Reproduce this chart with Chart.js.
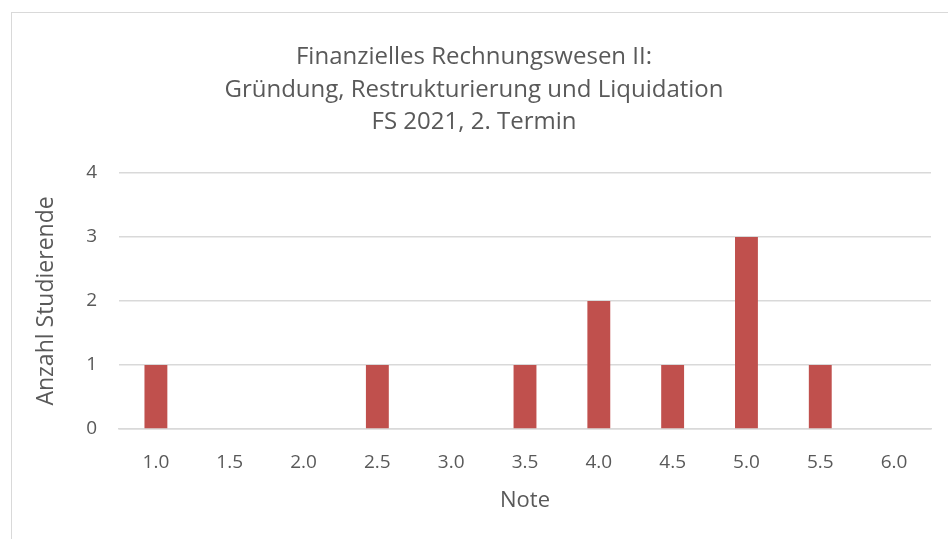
<!DOCTYPE html>
<html>
<head>
<meta charset="utf-8">
<script src="https://cdn.jsdelivr.net/npm/chart.js@4/dist/chart.umd.min.js"></script>
<style>
  html, body { margin: 0; padding: 0; background: #ffffff; overflow: hidden; }
  #wrap { position: relative; width: 948px; height: 539px; }
  #frame { position: absolute; left: 11px; top: 12px; width: 980px; height: 600px; border: 1px solid #d9d9d9; box-sizing: border-box; }
  canvas { position: absolute; left: 0; top: 0; }
</style>
</head>
<body>
<div id="wrap">
  <div id="frame"></div>
  <canvas id="c" width="948" height="539"></canvas>
</div>
<script>
const categories = ["1.0", "1.5", "2.0", "2.5", "3.0", "3.5", "4.0", "4.5", "5.0", "5.5", "6.0"];
const counts = [1, 0, 0, 1, 0, 1, 2, 1, 3, 1, 0];
const titleLines = ["Finanzielles Rechnungswesen II:", "Gründung, Restrukturierung und Liquidation", "FS 2021, 2. Termin"];
const yTitle = "Anzahl Studierende";
const xTitle = "Note";

const FONT = "'Open Sans', 'Liberation Sans', sans-serif";
const TXT = "#595959";

new Chart(document.getElementById("c"), {
  type: "bar",
  data: {
    labels: categories,
    datasets: [{
      data: counts,
      backgroundColor: "#c0504d",
      borderWidth: 0,
      barPercentage: 0.62,
      categoryPercentage: 0.5
    }]
  },
  options: {
    responsive: false,
    animation: false,
    devicePixelRatio: 1,
    layout: { padding: { left: 17, right: 17, top: 41, bottom: 25 } },
    plugins: {
      legend: { display: false },
      tooltip: { enabled: false },
      title: {
        display: true,
        text: titleLines,
        color: TXT,
        font: { family: FONT, size: 24, weight: "normal", lineHeight: 1.36 },
        padding: { top: 0, bottom: 34 }
      }
    },
    scales: {
      x: {
        afterFit: (s) => { s.height = 85; },
        grid: { display: false, drawTicks: false },
        border: { display: true, color: "#d9d9d9", width: 1.5 },
        ticks: { color: TXT, font: { family: FONT, size: 19, lineHeight: 1.2 }, padding: 22, maxRotation: 0 },
        title: { display: true, text: xTitle, color: TXT, font: { family: FONT, size: 22, lineHeight: 1.2 }, padding: { top: 0, bottom: 0 } }
      },
      y: {
        afterFit: (s) => { s.width = 102; },
        min: 0, max: 4,
        grid: { color: "#d9d9d9", lineWidth: 1.5, drawTicks: false },
        border: { display: false },
        ticks: { stepSize: 1, color: TXT, font: { family: FONT, size: 19 }, padding: 22 },
        title: { display: true, text: yTitle, color: TXT, font: { family: FONT, size: 23, lineHeight: 1.2 }, padding: { top: 16, bottom: 0 } }
      }
    }
  }
});
</script>
</body>
</html>
